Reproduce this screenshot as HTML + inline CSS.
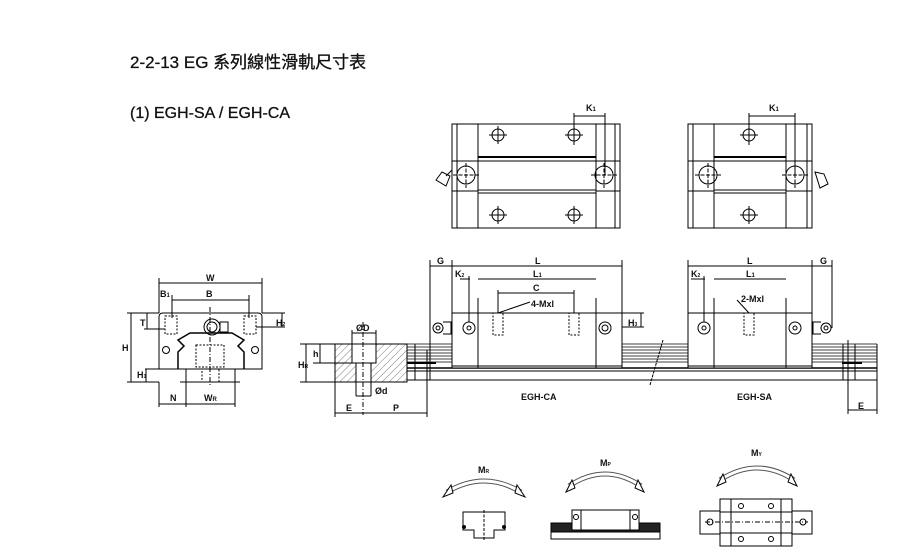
<!DOCTYPE html>
<html><head><meta charset="utf-8"><style>
html,body{margin:0;padding:0;background:#fff;width:904px;height:559px;overflow:hidden}
svg{display:block}
text{font-family:"Liberation Sans","Noto Sans CJK TC",sans-serif;fill:#111}
.t{font-size:9px;font-weight:bold}
</style></head><body>
<svg width="904" height="559" viewBox="0 0 904 559" xmlns="http://www.w3.org/2000/svg">
<defs>
<pattern id="h" width="5" height="5" patternUnits="userSpaceOnUse" patternTransform="rotate(45)"><line x1="0" y1="0" x2="0" y2="5" stroke="#444" stroke-width="0.7"/></pattern>
</defs>
<text x="130" y="68" font-size="17" stroke="#111" stroke-width="0.3">2-2-13 EG 系列線性滑軌尺寸表</text>
<text x="130" y="118" font-size="16" stroke="#111" stroke-width="0.3">(1) EGH-SA / EGH-CA</text>

<g fill="none" stroke="#000" stroke-width="1">
<!-- top view left -->
<rect x="452" y="124" width="168" height="104"/>
<line x1="457" y1="124" x2="457" y2="228"/><line x1="615" y1="124" x2="615" y2="228"/>
<rect x="478" y="124" width="118" height="104"/>
<line x1="478" y1="157" x2="596" y2="157" stroke-width="2"/><line x1="478" y1="161" x2="596" y2="161"/>
<line x1="478" y1="190" x2="596" y2="190"/><line x1="478" y1="193" x2="596" y2="193"/>
<line x1="452" y1="161" x2="478" y2="161"/><line x1="452" y1="191" x2="478" y2="191"/>
<line x1="596" y1="161" x2="620" y2="161"/><line x1="596" y1="191" x2="620" y2="191"/>
<g id="cr">
<circle cx="498" cy="135" r="6"/><circle cx="574" cy="135" r="6"/><circle cx="498" cy="215" r="6"/><circle cx="574" cy="215" r="6"/>
<path d="M489 135h18M498 126v18M565 135h18M574 126v18M489 215h18M498 206v18M565 215h18M574 206v18"/>
</g>
<circle cx="466" cy="175" r="9"/><circle cx="604" cy="175" r="9"/>
<path d="M453 175h26M466 163v25M591 175h26M604 163v25" stroke-dasharray="4 1.5"/>
<path d="M436 180 l6 -8 l8 4 l-4 10 z"/><path d="M446 176 l6 -6"/>
<line x1="574" y1="113" x2="574" y2="145"/><line x1="605" y1="113" x2="605" y2="175"/><line x1="574" y1="116" x2="605" y2="116"/>
<!-- top view right -->
<rect x="688" y="124" width="124" height="104"/>
<line x1="693" y1="124" x2="693" y2="228"/><line x1="807" y1="124" x2="807" y2="228"/>
<rect x="714" y="124" width="72" height="104"/>
<line x1="714" y1="157" x2="786" y2="157" stroke-width="2"/><line x1="714" y1="161" x2="786" y2="161"/>
<line x1="714" y1="190" x2="786" y2="190"/><line x1="714" y1="193" x2="786" y2="193"/>
<line x1="688" y1="161" x2="714" y2="161"/><line x1="688" y1="191" x2="714" y2="191"/>
<line x1="786" y1="161" x2="812" y2="161"/><line x1="786" y1="191" x2="812" y2="191"/>
<circle cx="749" cy="135" r="6"/><circle cx="749" cy="215" r="6"/>
<path d="M740 135h18M749 126v18M740 215h18M749 206v18"/>
<circle cx="708" cy="175" r="9"/><circle cx="795" cy="175" r="9"/>
<path d="M695 175h26M708 163v25M782 175h26M795 163v25" stroke-dasharray="4 1.5"/>
<path d="M815 172 l9 2 l4 10 l-8 4 z"/>
<line x1="749" y1="113" x2="749" y2="145"/><line x1="795" y1="113" x2="795" y2="175"/><line x1="749" y1="116" x2="795" y2="116"/>

<!-- end view -->
<path d="M163 313 H258 Q262 313 262 317 V369 H159 V317 Q159 313 163 313 Z"/>
<path d="M178 369 V352 L184 346 L178 340 L190 333 H232 L244 340 L238 346 L244 352 V369" stroke-width="1.5"/>
<rect x="196" y="345" width="28" height="22" stroke-dasharray="2 1.5"/>
<rect x="202" y="369" width="17" height="13" stroke-dasharray="2 1.5"/>
<line x1="186" y1="369" x2="186" y2="382"/><line x1="235" y1="369" x2="235" y2="382"/>
<line x1="180" y1="382" x2="240" y2="382"/>
<rect x="165" y="316" width="12" height="18" stroke-dasharray="2 1.5"/><rect x="244" y="316" width="12" height="18" stroke-dasharray="2 1.5"/>
<circle cx="212" cy="327" r="8"/><circle cx="212" cy="327" r="5"/><rect x="220" y="322" width="8" height="10"/>
<circle cx="166" cy="350" r="3.5"/><circle cx="255" cy="350" r="3.5"/>
<line x1="210" y1="307" x2="210" y2="387" stroke-dasharray="5 2 1 2"/>
<line x1="159" y1="278" x2="159" y2="313"/><line x1="262" y1="278" x2="262" y2="313"/><line x1="159" y1="283" x2="262" y2="283"/>
<line x1="172" y1="295" x2="172" y2="318"/><line x1="249" y1="295" x2="249" y2="318"/><line x1="172" y1="300" x2="249" y2="300"/>
<line x1="127" y1="313" x2="159" y2="313"/><line x1="127" y1="382" x2="159" y2="382"/><line x1="131" y1="313" x2="131" y2="382"/>
<line x1="145" y1="369" x2="159" y2="369"/><line x1="146" y1="369" x2="146" y2="382"/>
<line x1="147" y1="313" x2="147" y2="329"/><line x1="144" y1="329" x2="165" y2="329"/>
<line x1="256" y1="327" x2="285" y2="327"/><line x1="282" y1="313" x2="282" y2="327"/><line x1="262" y1="313" x2="285" y2="313"/>
<line x1="159" y1="382" x2="159" y2="407"/><line x1="186" y1="382" x2="186" y2="407"/><line x1="235" y1="382" x2="235" y2="407"/>
<line x1="159" y1="404" x2="235" y2="404"/>

<!-- rail section hatched -->
<rect x="335" y="344" width="72" height="38" fill="url(#h)"/>
<rect x="352" y="344" width="24" height="19" fill="#fff"/>
<rect x="356" y="363" width="15" height="19" fill="#fff"/>
<line x1="363" y1="322" x2="363" y2="415" stroke-dasharray="5 2 1 2"/>
<line x1="352" y1="330" x2="352" y2="344"/><line x1="376" y1="330" x2="376" y2="344"/><line x1="352" y1="333" x2="376" y2="333"/>
<line x1="356" y1="382" x2="356" y2="396"/><line x1="371" y1="382" x2="371" y2="396"/><line x1="356" y1="396" x2="371" y2="396"/>
<line x1="335" y1="382" x2="335" y2="417"/><line x1="427" y1="350" x2="427" y2="417"/><line x1="335" y1="413" x2="427" y2="413"/>
<line x1="300" y1="344" x2="335" y2="344"/><line x1="300" y1="382" x2="335" y2="382"/><line x1="306" y1="344" x2="306" y2="382"/>
<line x1="313" y1="363" x2="352" y2="363"/><line x1="320" y1="344" x2="320" y2="363"/>

<!-- rail front -->
<g stroke-width="0.8">
<line x1="407" y1="344" x2="877" y2="344"/><line x1="407" y1="347" x2="877" y2="347"/><line x1="407" y1="350" x2="877" y2="350"/>
<line x1="407" y1="353" x2="877" y2="353"/><line x1="407" y1="356" x2="877" y2="356"/><line x1="407" y1="359" x2="877" y2="359"/>
<line x1="407" y1="362" x2="877" y2="362"/>
</g>
<line x1="407" y1="368" x2="877" y2="368" stroke-width="1.5"/>
<line x1="407" y1="371" x2="877" y2="371"/><line x1="407" y1="380" x2="877" y2="380"/>
<line x1="877" y1="344" x2="877" y2="414"/>
<line x1="848" y1="340" x2="848" y2="414"/><line x1="843" y1="344" x2="843" y2="380"/><line x1="855" y1="344" x2="855" y2="380"/>
<line x1="842" y1="363" x2="862" y2="363" stroke-width="2"/>
<line x1="848" y1="410" x2="877" y2="410"/>
<line x1="650" y1="385" x2="663" y2="340" stroke-dasharray="3 1"/>
<line x1="430" y1="345" x2="430" y2="380"/><line x1="415" y1="344" x2="415" y2="380"/>
<line x1="407" y1="363" x2="436" y2="363" stroke-width="2"/>

<!-- CA block -->
<rect x="452" y="313" width="170" height="55" fill="#fff"/>
<line x1="478" y1="298" x2="478" y2="368"/><line x1="596" y1="298" x2="596" y2="368"/>
<line x1="452" y1="366" x2="622" y2="366"/>
<circle cx="469" cy="328" r="6"/><circle cx="469" cy="328" r="2"/>
<circle cx="605" cy="328" r="6"/><circle cx="605" cy="328" r="3"/>
<rect x="493" y="313" width="10" height="22" stroke-dasharray="2 1.5"/><rect x="569" y="313" width="10" height="22" stroke-dasharray="2 1.5"/>
<circle cx="438" cy="328" r="5"/><circle cx="438" cy="328" r="2"/><path d="M443 322 h8 v12 h-8"/>
<line x1="430" y1="260" x2="430" y2="345"/><line x1="452" y1="260" x2="452" y2="313"/><line x1="622" y1="260" x2="622" y2="313"/>
<line x1="430" y1="266" x2="622" y2="266"/>
<line x1="478" y1="279" x2="596" y2="279"/><line x1="460" y1="279" x2="470" y2="279"/><line x1="469" y1="276" x2="469" y2="322"/>
<line x1="498" y1="293" x2="574" y2="293"/><line x1="498" y1="290" x2="498" y2="313"/><line x1="574" y1="290" x2="574" y2="313"/>
<line x1="498" y1="313" x2="530" y2="302"/>
<line x1="622" y1="327" x2="644" y2="327"/><line x1="641" y1="313" x2="641" y2="327"/><line x1="622" y1="313" x2="644" y2="313"/>

<!-- SA block -->
<rect x="688" y="313" width="124" height="55" fill="#fff"/>
<line x1="714" y1="298" x2="714" y2="368"/><line x1="786" y1="298" x2="786" y2="368"/>
<line x1="688" y1="366" x2="812" y2="366"/>
<circle cx="704" cy="328" r="6"/><circle cx="704" cy="328" r="2"/>
<circle cx="795" cy="328" r="6"/><circle cx="795" cy="328" r="2"/>
<rect x="744" y="313" width="10" height="22" stroke-dasharray="2 1.5"/>
<circle cx="826" cy="328" r="5"/><circle cx="826" cy="328" r="2"/><path d="M821 322 h-8 v12 h8"/>
<line x1="688" y1="260" x2="688" y2="313"/><line x1="812" y1="260" x2="812" y2="313"/><line x1="832" y1="260" x2="832" y2="328"/>
<line x1="688" y1="266" x2="832" y2="266"/>
<line x1="714" y1="279" x2="786" y2="279"/><line x1="691" y1="279" x2="705" y2="279"/><line x1="704" y1="276" x2="704" y2="322"/>
<line x1="749" y1="313" x2="737" y2="300"/>

<!-- moment icons -->
<path d="M447 492 Q484 470 521 492" stroke-width="5" stroke="#555"/>
<path d="M447 492 Q484 470 521 492" stroke-width="3" stroke="#fff"/>
<path d="M443 497 l8 -12 l2 8 z M525 497 l-8 -12 l-2 8 z" fill="#fff"/>
<path d="M463 512 H505 V530 H494 V538 H474 V530 H463 Z"/>
<line x1="484" y1="510" x2="484" y2="540" stroke-dasharray="3 1.5"/>
<circle cx="464" cy="527" r="1.5" fill="#000"/><circle cx="504" cy="527" r="1.5" fill="#000"/>
<path d="M569 486 Q605 462 641 486" stroke-width="5" stroke="#555"/>
<path d="M569 486 Q605 462 641 486" stroke-width="3" stroke="#fff"/>
<path d="M566 492 l6 -12 l3 8 z M644 492 l-6 -12 l-3 8 z" fill="#fff"/>
<rect x="551" y="523" width="109" height="9" fill="#222"/>
<rect x="551" y="532" width="109" height="7"/>
<rect x="572" y="510" width="67" height="20" fill="#fff"/>
<line x1="581" y1="510" x2="581" y2="530"/><line x1="630" y1="510" x2="630" y2="530"/>
<circle cx="576" cy="517" r="2.5"/><circle cx="635" cy="517" r="2.5"/>
<path d="M720 480 Q757 456 794 480" stroke-width="5" stroke="#555"/>
<path d="M720 480 Q757 456 794 480" stroke-width="3" stroke="#fff"/>
<path d="M717 486 l6 -12 l3 8 z M797 486 l-6 -12 l-3 8 z" fill="#fff"/>
<rect x="700" y="511" width="112" height="23"/>
<rect x="720" y="499" width="72" height="47" fill="#fff"/>
<rect x="731" y="499" width="50" height="47"/>
<line x1="720" y1="512" x2="792" y2="512"/><line x1="720" y1="533" x2="792" y2="533"/>
<line x1="705" y1="522" x2="808" y2="522" stroke-dasharray="5 2 1 2"/>
<circle cx="710" cy="522" r="3"/><circle cx="803" cy="522" r="3"/>
<circle cx="741" cy="506" r="2.5"/><circle cx="771" cy="506" r="2.5"/><circle cx="741" cy="539" r="2.5"/><circle cx="771" cy="539" r="2.5"/>
</g>

<text class="t" x="586" y="111">K<tspan font-size="6">1</tspan></text>
<text class="t" x="769" y="111">K<tspan font-size="6">1</tspan></text>
<text class="t" x="206" y="281">W</text>
<text class="t" x="160" y="297">B<tspan font-size="6">1</tspan></text>
<text class="t" x="206" y="297">B</text>
<text class="t" x="122" y="351">H</text>
<text class="t" x="140" y="326">T</text>
<text class="t" x="137" y="378" font-size="7">H<tspan font-size="5">1</tspan></text>
<text class="t" x="276" y="326" font-size="7">H<tspan font-size="5">2</tspan></text>
<text class="t" x="170" y="401">N</text>
<text class="t" x="204" y="401">W<tspan font-size="6">R</tspan></text>
<text class="t" x="356" y="331">ØD</text>
<text class="t" x="375" y="394">Ød</text>
<text class="t" x="346" y="411">E</text>
<text class="t" x="393" y="411">P</text>
<text class="t" x="298" y="368" font-size="7">H<tspan font-size="5">R</tspan></text>
<text class="t" x="313" y="357">h</text>
<text class="t" x="437" y="264">G</text>
<text class="t" x="535" y="264">L</text>
<text class="t" x="455" y="277" font-size="8">K<tspan font-size="5">2</tspan></text>
<text class="t" x="533" y="277">L<tspan font-size="6">1</tspan></text>
<text class="t" x="533" y="291">C</text>
<text class="t" x="531" y="307">4-Mxl</text>
<text class="t" x="628" y="326" font-size="7">H<tspan font-size="5">3</tspan></text>
<text class="t" x="747" y="264">L</text>
<text class="t" x="820" y="264">G</text>
<text class="t" x="691" y="277" font-size="8">K<tspan font-size="5">2</tspan></text>
<text class="t" x="746" y="277">L<tspan font-size="6">1</tspan></text>
<text class="t" x="741" y="302">2-Mxl</text>
<text class="t" x="521" y="400" font-size="8">EGH-CA</text>
<text class="t" x="737" y="400" font-size="8">EGH-SA</text>
<text class="t" x="858" y="409">E</text>
<text class="t" x="478" y="473">M<tspan font-size="5">R</tspan></text>
<text class="t" x="600" y="466">M<tspan font-size="5">P</tspan></text>
<text class="t" x="751" y="456">M<tspan font-size="5">Y</tspan></text>
</svg>
</body></html>
